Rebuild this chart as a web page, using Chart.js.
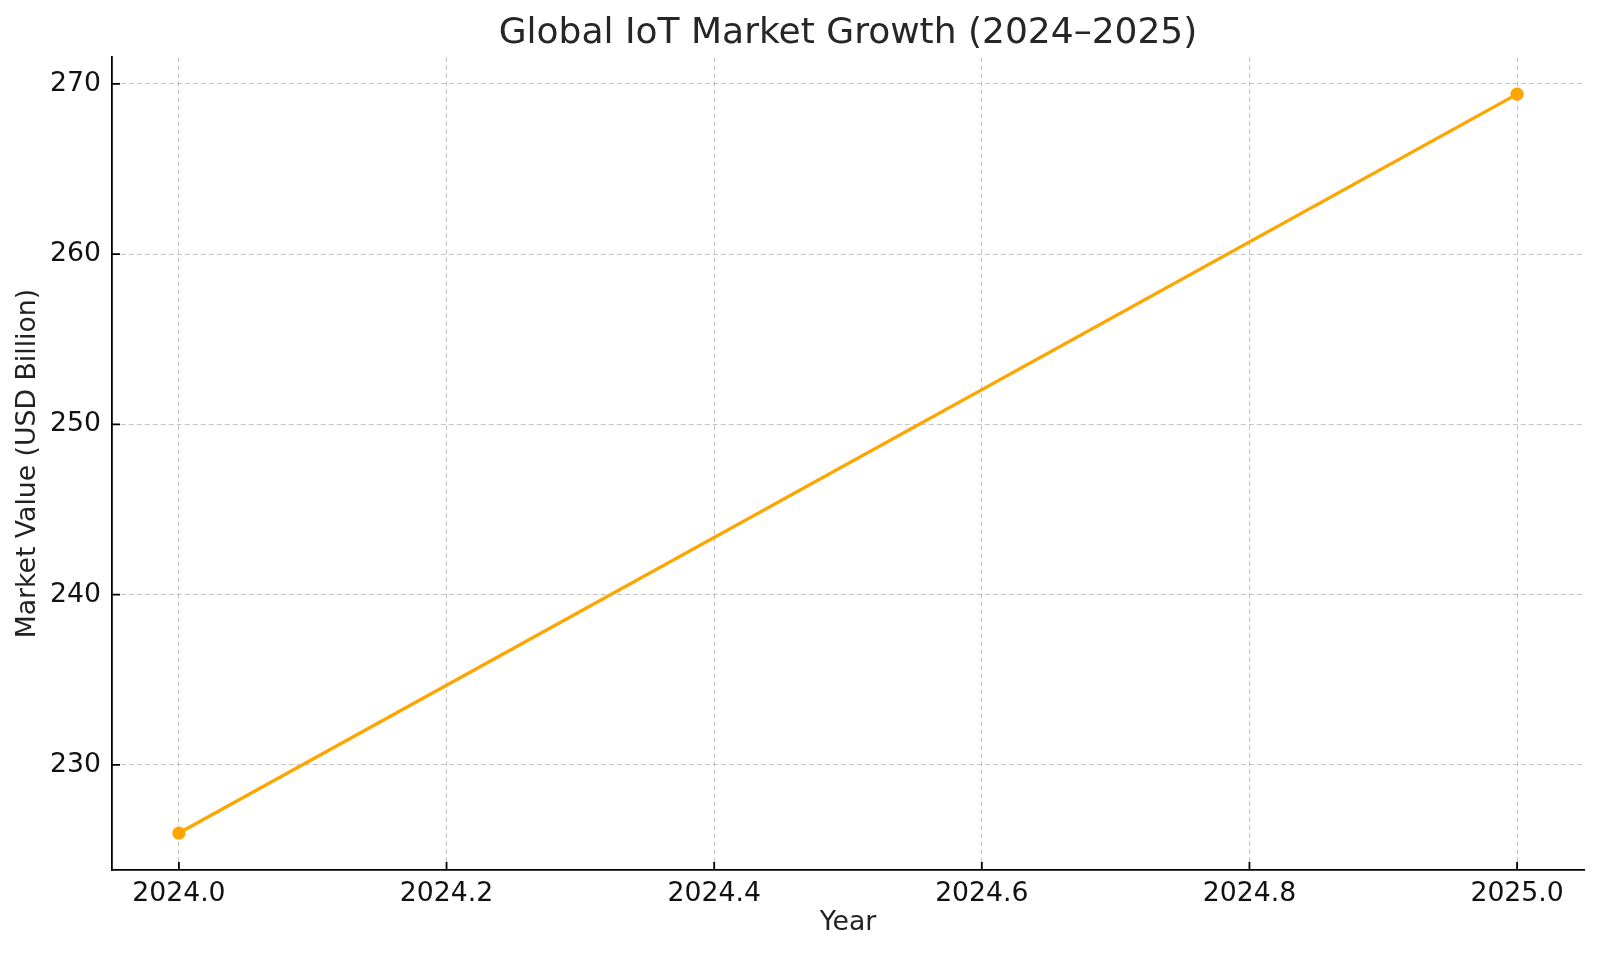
<!DOCTYPE html>
<html>
<head>
<meta charset="utf-8">
<title>Global IoT Market Growth (2024–2025)</title>
<script src="https://cdn.jsdelivr.net/npm/chart.js@4.4.1/dist/chart.umd.min.js"></script>
<style>
    html, body { margin: 0; padding: 0; background: #fff; }
    #wrap { width: 1600px; height: 954px; position: relative; }
</style>
</head>
<body>
<div id="wrap"><canvas id="iot-chart"></canvas></div>
<script>
// Chart data
const years = [2024.0, 2025.0];
const marketValues = [226.0, 269.4];

// Tick labels
const xTicks = [2024.0, 2024.2, 2024.4, 2024.6, 2024.8, 2025.0];
const yTicks = [230, 240, 250, 260, 270];

const FONT = "'DejaVu Sans', sans-serif";
const lineColor = '#FFA500';
const gridColor = 'rgba(176,176,176,0.75)';

// matplotlib-like inward tick marks
const innerTicks = {
    id: 'innerTicks',
    afterDatasetsDraw(chart) {
        const { ctx, chartArea, scales } = chart;
        ctx.save();
        ctx.strokeStyle = '#000';
        ctx.lineWidth = 1.8;
        ctx.beginPath();
        xTicks.forEach(v => {
            const px = scales.x.getPixelForValue(v);
            ctx.moveTo(px, chartArea.bottom);
            ctx.lineTo(px, chartArea.bottom - 8);
        });
        yTicks.forEach(v => {
            const py = scales.y.getPixelForValue(v);
            ctx.moveTo(chartArea.left, py);
            ctx.lineTo(chartArea.left + 8, py);
        });
        ctx.stroke();
        ctx.restore();
    }
};

// 5% margin around the data, like matplotlib autoscale
function padRange(values, frac) {
    const lo = Math.min(...values), hi = Math.max(...values);
    const m = (hi - lo) * frac;
    return [lo - m, hi + m];
}

document.addEventListener('DOMContentLoaded', () => {
    const [xMin, xMax] = padRange(years, 0.05);
    const [yMin, yMax] = padRange(marketValues, 0.05);

    new Chart(document.getElementById('iot-chart').getContext('2d'), {
        type: 'line',
        data: {
            datasets: [{
                label: 'Market Value',
                data: years.map((y, i) => ({ x: y, y: marketValues[i] })),
                borderColor: lineColor,
                backgroundColor: lineColor,
                borderWidth: 3.3,
                pointRadius: 6.6,
                pointHoverRadius: 6.6,
                pointBorderWidth: 0,
                tension: 0
            }]
        },
        options: {
            responsive: true,
            maintainAspectRatio: false,
            animation: false,
            layout: { padding: { left: 0, right: 16, top: 0, bottom: 0 } },
            plugins: {
                legend: { display: false },
                tooltip: { enabled: false },
                title: {
                    display: true,
                    text: 'Global IoT Market Growth (2024–2025)',
                    fullSize: false,
                    color: '#262626',
                    font: { family: FONT, size: 36, weight: 'normal', lineHeight: 1.2 },
                    padding: { top: 12.5, bottom: 1.5 }
                }
            },
            scales: {
                x: {
                    type: 'linear',
                    min: xMin,
                    max: xMax,
                    afterBuildTicks: scale => { scale.ticks = xTicks.map(v => ({ value: v })); },
                    afterFit: scale => { scale.height = 84; },
                    grid: {
                        color: gridColor,
                        lineWidth: 1,
                        drawTicks: false
                    },
                    border: { display: true, color: '#000', width: 1.8, dash: [5, 3] },
                    ticks: {
                        color: '#111',
                        padding: 8,
                        maxRotation: 0,
                        font: { family: FONT, size: 26.7 },
                        callback: v => Number(v).toFixed(1)
                    },
                    title: {
                        display: true,
                        text: 'Year',
                        color: '#222',
                        font: { family: FONT, size: 26.7 },
                        padding: { top: 0, bottom: 15 }
                    }
                },
                y: {
                    min: yMin,
                    max: yMax,
                    afterBuildTicks: scale => { scale.ticks = yTicks.map(v => ({ value: v })); },
                    afterFit: scale => { scale.width = 112; },
                    grid: {
                        color: gridColor,
                        lineWidth: 1,
                        drawTicks: false
                    },
                    border: { display: true, color: '#000', width: 1.8, dash: [5, 3] },
                    ticks: {
                        color: '#111',
                        padding: 11,
                        font: { family: FONT, size: 26.7 },
                        callback: v => String(v)
                    },
                    title: {
                        display: true,
                        text: 'Market Value (USD Billion)',
                        color: '#222',
                        font: { family: FONT, size: 26.7 },
                        padding: { top: 12, bottom: 0 }
                    }
                }
            }
        },
        plugins: [innerTicks]
    });
});
</script>
</body>
</html>
